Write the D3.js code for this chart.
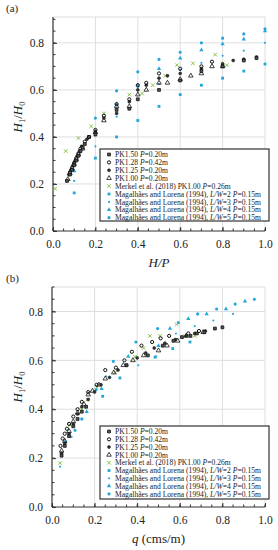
<!DOCTYPE html>
<html>
<head>
<meta charset="utf-8">
<script src="https://cdn.jsdelivr.net/npm/d3@7"></script>
<style>
  body { margin: 0; background: #fff; }
  svg { display: block; font-family: "Liberation Serif", "DejaVu Serif", serif; }
  svg text { font-family: "Liberation Serif", "DejaVu Serif", serif; }
</style>
</head>
<body>
<svg id="chart" width="278" height="550"></svg>
<script>
// ---- data, panel (a): H1/H0 against H/P ----
var hpCols = [0.1, 0.2, 0.3, 0.4, 0.5, 0.6, 0.7, 0.8, 0.9, 1.0];
var magLW2A = [0.162, 0.31, 0.40, 0.47, 0.53, 0.58, 0.62, 0.65, 0.68, 0.71];
var magLW3A = [0.213, 0.36, 0.486, 0.61, 0.625, 0.685, 0.715, 0.745, 0.767, 0.80];
var magLW4A = [0.255, 0.42, 0.536, 0.62, 0.69, 0.735, 0.77, 0.795, 0.815, 0.85];
var magLW5A = [0.29, 0.48, 0.596, 0.677, 0.73, 0.76, 0.80, 0.82, 0.838, 0.86];

var pk150A = [[0.066,0.213],[0.08,0.24],[0.09,0.26],[0.10,0.28],[0.11,0.30],[0.12,0.32],[0.13,0.34],[0.14,0.355],[0.15,0.37],[0.17,0.40],[0.2,0.41],[0.3,0.515],[0.36,0.52],[0.4,0.56],[0.5,0.60],[0.6,0.64],[0.7,0.68],[0.8,0.70],[0.9,0.725],[0.96,0.735]];
var pk128A = [[0.08,0.25],[0.09,0.27],[0.10,0.29],[0.11,0.31],[0.12,0.33],[0.13,0.35],[0.15,0.38],[0.17,0.40],[0.2,0.43],[0.24,0.49],[0.3,0.54],[0.36,0.56],[0.4,0.62],[0.44,0.63],[0.5,0.67],[0.6,0.69],[0.7,0.70],[0.75,0.72]];
var pk125A = [[0.075,0.24],[0.085,0.26],[0.095,0.28],[0.105,0.30],[0.115,0.32],[0.125,0.34],[0.135,0.36],[0.16,0.39],[0.17,0.40],[0.2,0.42],[0.24,0.48],[0.3,0.50],[0.36,0.55],[0.4,0.60],[0.44,0.62],[0.5,0.65],[0.54,0.66],[0.6,0.67],[0.7,0.69],[0.8,0.71],[0.85,0.725],[0.9,0.73],[0.96,0.74]];
var pk100A = [[0.07,0.22],[0.08,0.245],[0.09,0.265],[0.10,0.285],[0.11,0.305],[0.12,0.325],[0.14,0.35],[0.2,0.42],[0.24,0.47],[0.3,0.53],[0.36,0.53],[0.4,0.58],[0.44,0.60],[0.5,0.63],[0.54,0.63],[0.6,0.645],[0.65,0.66],[0.7,0.67],[0.75,0.70],[0.8,0.70]];
var merkelA = [[0.01,0.18],[0.06,0.34],[0.12,0.395],[0.18,0.445],[0.24,0.50],[0.36,0.58],[0.42,0.585],[0.47,0.62],[0.53,0.66],[0.585,0.705],[0.66,0.713],[0.765,0.75],[0.80,0.713],[0.82,0.705]];

// ---- data, panel (b): H1/H0 against q ----
var pk150B = [[0.045,0.21],[0.06,0.25],[0.08,0.29],[0.10,0.33],[0.12,0.36],[0.14,0.39],[0.16,0.41],[0.35,0.58],[0.45,0.62],[0.52,0.66],[0.57,0.68],[0.61,0.695],[0.65,0.70],[0.68,0.71],[0.715,0.715],[0.765,0.73],[0.80,0.735]];
var pk128B = [[0.04,0.25],[0.05,0.28],[0.06,0.30],[0.07,0.32],[0.08,0.34],[0.10,0.37],[0.12,0.40],[0.14,0.43],[0.17,0.47],[0.21,0.50],[0.25,0.56],[0.30,0.57],[0.34,0.60],[0.375,0.635],[0.42,0.66],[0.47,0.675],[0.51,0.69],[0.55,0.70],[0.64,0.71],[0.69,0.72]];
var pk125B = [[0.045,0.22],[0.06,0.26],[0.08,0.30],[0.10,0.34],[0.12,0.38],[0.14,0.41],[0.17,0.44],[0.20,0.47],[0.23,0.50],[0.27,0.53],[0.31,0.56],[0.35,0.58],[0.40,0.61],[0.44,0.63],[0.48,0.65],[0.53,0.67],[0.58,0.685],[0.63,0.70],[0.67,0.71],[0.72,0.72]];
var pk100B = [[0.045,0.23],[0.06,0.27],[0.08,0.31],[0.10,0.35],[0.12,0.385],[0.15,0.42],[0.17,0.46],[0.19,0.475],[0.22,0.50],[0.25,0.525],[0.29,0.55],[0.335,0.58],[0.38,0.60],[0.43,0.62],[0.50,0.64],[0.54,0.66],[0.59,0.68],[0.63,0.70],[0.71,0.715]];
var merkelB = [[0.038,0.18],[0.085,0.335],[0.14,0.40],[0.167,0.44],[0.21,0.49],[0.296,0.55],[0.39,0.615],[0.43,0.65],[0.46,0.70],[0.507,0.70],[0.585,0.747],[0.625,0.70],[0.67,0.70]];
var magLW2B = [[0.14,0.36],[0.238,0.453],[0.319,0.528],[0.484,0.613],[0.567,0.648],[0.648,0.675]];
var magLW3B = [[0.038,0.165],[0.092,0.287],[0.254,0.535],[0.405,0.58],[0.488,0.616],[0.582,0.71],[0.67,0.74],[0.757,0.763],[0.85,0.79]];
var magLW4B = [[0.061,0.267],[0.163,0.39],[0.233,0.484],[0.358,0.616],[0.5,0.66],[0.554,0.73],[0.64,0.77],[0.726,0.79],[0.817,0.81],[0.906,0.842]];
var magLW5B = [[0.045,0.212],[0.108,0.314],[0.207,0.48],[0.288,0.596],[0.394,0.675],[0.496,0.73],[0.593,0.754],[0.684,0.79],[0.773,0.81],[0.86,0.83],[0.95,0.85]];

var xTicks = [0, 0.2, 0.4, 0.6, 0.8, 1.0];
var yTicks = [0, 0.2, 0.4, 0.6, 0.8];
var minorTicks = d3.range(0, 1.0001, 0.05);

var legendLabels = [
  ['PK1.50 ', 'P', '=0.20m'],
  ['PK1.28 ', 'P', '=0.42m'],
  ['PK1.25 ', 'P', '=0.20m'],
  ['PK1.00 ', 'P', '=0.20m'],
  ['Merkel et al. (2018) PK1.00 ', 'P', '=0.26m'],
  ['Magalhães and Lorena (1994), ', 'L/W', '=2 ', 'P', '=0.15m'],
  ['Magalhães and Lorena (1994), ', 'L/W', '=3 ', 'P', '=0.15m'],
  ['Magalhães and Lorena (1994), ', 'L/W', '=4 ', 'P', '=0.15m'],
  ['Magalhães and Lorena (1994), ', 'L/W', '=5 ', 'P', '=0.15m']
];

var BLUE = '#22a6dc', GREEN = '#8cc152', BLACK = '#111';
var FONT = '"Liberation Serif", "DejaVu Serif", serif';
var timesSym = d3.symbolTimes || d3.symbolX;

// marker styles, in legend order
var styles = [
  { sym: d3.symbolSquare,   size: 8,  fill: '#555', stroke: BLACK, sw: 0.8 },
  { sym: d3.symbolCircle,   size: 8,  fill: 'none', stroke: BLACK, sw: 1.0 },
  { sym: d3.symbolCircle,   size: 7,  fill: '#333', stroke: BLACK, sw: 0.5 },
  { sym: d3.symbolTriangle, size: 9,  fill: 'none', stroke: BLACK, sw: 0.8 },
  { sym: timesSym,          size: 10, fill: 'none', stroke: GREEN, sw: 1.0 },
  { sym: d3.symbolSquare,   size: 8,  fill: BLUE, stroke: 'none', sw: 0 },
  { sym: d3.symbolCircle,   size: 3.5, fill: BLUE, stroke: 'none', sw: 0 },
  { sym: d3.symbolTriangle, size: 8,  fill: BLUE, stroke: 'none', sw: 0 },
  { sym: d3.symbolCircle,   size: 8,  fill: BLUE, stroke: 'none', sw: 0 }
];

function cols(vals) {
  return vals.map(function(v, i) { return [hpCols[i], v]; });
}

var svg = d3.select('#chart');

function drawPanel(cfg) {
  var x = d3.scaleLinear().domain([0, 1]).range([cfg.left, cfg.right]);
  var y = d3.scaleLinear().domain([0, cfg.ymax]).range([cfg.bottom, cfg.top]);
  var g = svg.append('g');

  // grid + light frame
  g.selectAll('.gx').data(xTicks.slice(1)).enter().append('line')
    .attr('x1', function(d) { return x(d); }).attr('x2', function(d) { return x(d); })
    .attr('y1', cfg.top).attr('y2', cfg.bottom)
    .attr('stroke', '#dedede').attr('stroke-width', 1);
  g.selectAll('.gy').data(yTicks.slice(1)).enter().append('line')
    .attr('y1', function(d) { return y(d); }).attr('y2', function(d) { return y(d); })
    .attr('x1', cfg.left).attr('x2', cfg.right)
    .attr('stroke', '#dedede').attr('stroke-width', 1);
  g.append('line').attr('x1', cfg.left).attr('x2', cfg.right)
    .attr('y1', cfg.top).attr('y2', cfg.top).attr('stroke', '#dedede');

  // axes
  var xAxis = d3.axisBottom(x).tickValues(xTicks).tickSize(-4).tickFormat(d3.format('.1f'));
  var yAxis = d3.axisLeft(y).tickValues(yTicks).tickSize(-4).tickFormat(d3.format('.1f'));
  var xa = g.append('g').attr('transform', 'translate(0,' + cfg.bottom + ')').call(xAxis);
  var ya = g.append('g').attr('transform', 'translate(' + cfg.left + ',0)').call(yAxis);
  [xa, ya].forEach(function(a) {
    a.attr('font-family', FONT).attr('font-size', 11.5);
    a.select('.domain').attr('stroke', '#333').attr('stroke-width', 1.2);
    a.selectAll('.tick line').attr('stroke', '#333');
    a.selectAll('text').attr('fill', '#222');
  });
  xa.select('.domain').attr('d', 'M' + cfg.left + ',0H' + cfg.right);
  ya.select('.domain').attr('d', 'M0,' + cfg.bottom + 'V' + cfg.top);
  xa.selectAll('text').attr('dy', 14);
  ya.selectAll('text').attr('dx', -6);

  g.selectAll('.mx').data(minorTicks).enter().append('line')
    .attr('x1', function(d) { return x(d); }).attr('x2', function(d) { return x(d); })
    .attr('y1', cfg.bottom).attr('y2', cfg.bottom - 2.5).attr('stroke', '#333');
  g.selectAll('.my').data(minorTicks.filter(function(d) { return d <= cfg.ymax; })).enter().append('line')
    .attr('y1', function(d) { return y(d); }).attr('y2', function(d) { return y(d); })
    .attr('x1', cfg.left).attr('x2', cfg.left + 2.5).attr('stroke', '#333');

  // points, back to front: blue, green, black
  var order = [8, 7, 6, 5, 4, 3, 2, 1, 0];
  order.forEach(function(si) {
    var st = styles[si];
    var path = d3.symbol().type(st.sym).size(st.size);
    g.append('g').selectAll('path').data(cfg.series[si]).enter().append('path')
      .attr('d', path)
      .attr('transform', function(d) { return 'translate(' + x(d[0]) + ',' + y(d[1]) + ')'; })
      .attr('fill', st.fill).attr('stroke', st.stroke).attr('stroke-width', st.sw);
  });

  // legend
  var lg = g.append('g');
  lg.append('rect').attr('x', cfg.leg.x).attr('y', cfg.leg.y)
    .attr('width', cfg.leg.w).attr('height', cfg.leg.h)
    .attr('fill', '#fff').attr('stroke', '#333').attr('stroke-width', 1.2);
  legendLabels.forEach(function(parts, i) {
    var cy = cfg.leg.y + 5.5 + i * cfg.leg.step;
    var st = styles[i];
    lg.append('path').attr('d', d3.symbol().type(st.sym).size(st.size)())
      .attr('transform', 'translate(' + (cfg.leg.x + 9) + ',' + cy + ')')
      .attr('fill', st.fill).attr('stroke', st.stroke).attr('stroke-width', st.sw);
    var t = lg.append('text').attr('x', cfg.leg.x + 15).attr('y', cy + 2.6)
      .attr('font-size', 7.6).attr('fill', '#222');
    parts.forEach(function(p) {
      var it = (p === 'P' || p === 'L/W');
      t.append('tspan').text(p).attr('font-style', it ? 'italic' : 'normal');
    });
  });

  // labels
  svg.append('text').attr('x', 6).attr('y', cfg.top - 5).attr('font-size', 11)
    .attr('fill', '#222').text(cfg.tag);
  var yl = svg.append('text').attr('transform', 'translate(22,' + cfg.ylabelY + ') rotate(-90)')
    .attr('text-anchor', 'middle').attr('font-size', 13).attr('fill', '#222');
  yl.append('tspan').attr('font-style', 'italic').text('H');
  yl.append('tspan').attr('font-size', 8.5).attr('dy', 3).text('1');
  yl.append('tspan').attr('dy', -3).text('/');
  yl.append('tspan').attr('font-style', 'italic').text('H');
  yl.append('tspan').attr('font-size', 8.5).attr('dy', 3).text('0');
  var xl = svg.append('text').attr('x', (cfg.left + cfg.right) / 2).attr('y', cfg.bottom + 36)
    .attr('text-anchor', 'middle').attr('font-size', 13).attr('fill', '#222');
  cfg.xlabel.forEach(function(p) {
    xl.append('tspan').attr('font-style', p[1] ? 'italic' : 'normal').text(p[0]);
  });
}

drawPanel({
  tag: '(a)', left: 53, right: 265, top: 17, bottom: 231, ymax: 0.91,
  ylabelY: 117, xlabel: [['H/P', true]],
  leg: { x: 100, y: 149, w: 169, h: 72, step: 7.9 },
  series: [pk150A, pk128A, pk125A, pk100A, merkelA,
           cols(magLW2A), cols(magLW3A), cols(magLW4A), cols(magLW5A)]
});

drawPanel({
  tag: '(b)', left: 52, right: 265, top: 287, bottom: 507, ymax: 0.9,
  ylabelY: 387, xlabel: [['q', true], [' (cms/m)', false]],
  leg: { x: 100, y: 426, w: 169, h: 73, step: 7.8 },
  series: [pk150B, pk128B, pk125B, pk100B, merkelB,
           magLW2B, magLW3B, magLW4B, magLW5B]
});
</script>
</body>
</html>
